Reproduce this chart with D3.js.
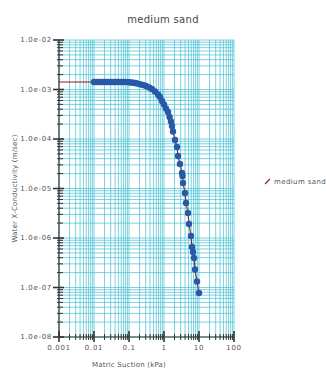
<!DOCTYPE html>
<html>
<head>
<meta charset="utf-8">
<script src="https://cdn.jsdelivr.net/npm/d3@7"></script>
<style>
body { margin: 0; background: #fff; }
text { font-family: "DejaVu Sans", sans-serif; fill: #555; }
</style>
</head>
<body>
<div id="chart"></div>
<script>
var title = "medium sand";
var xLabel = "Matric Suction (kPa)";
var yLabel = "Water X-Conductivity (m/sec)";
var xTicks = [0.001, 0.01, 0.1, 1, 10, 100];
var xTickLabels = ["0.001", "0.01", "0.1", "1", "10", "100"];
var yTicks = [1e-8, 1e-7, 1e-6, 1e-5, 1e-4, 1e-3, 1e-2];
var yTickLabels = ["1.0e-08", "1.0e-07", "1.0e-06", "1.0e-05", "1.0e-04", "1.0e-03", "1.0e-02"];

// line starts at 0.001 kPa, measured points from 0.01 kPa
var lineStart = {s: 0.001, k: 1.42e-3};
var suction = [0.01, 0.0115, 0.013, 0.015, 0.017, 0.02, 0.023, 0.026, 0.03, 0.034, 0.039, 0.045,
    0.051, 0.058, 0.067, 0.076, 0.087, 0.1, 0.115, 0.13, 0.15, 0.17, 0.206, 0.251, 0.306, 0.373,
    0.454, 0.553, 0.674, 0.769, 0.877, 1.0, 1.14, 1.30, 1.44, 1.58, 1.69, 1.81, 2.06, 2.35, 2.51,
    2.86, 3.27, 3.38, 3.49, 3.98, 4.25, 4.85, 5.18, 5.90, 6.31, 6.74, 7.20, 7.69, 8.77, 10.0];
var conductivity = [1.42e-3, 1.42e-3, 1.42e-3, 1.42e-3, 1.42e-3, 1.42e-3, 1.42e-3, 1.42e-3, 1.42e-3,
    1.42e-3, 1.42e-3, 1.42e-3, 1.42e-3, 1.42e-3, 1.42e-3, 1.42e-3, 1.41e-3, 1.40e-3, 1.39e-3, 1.37e-3,
    1.35e-3, 1.32e-3, 1.28e-3, 1.23e-3, 1.18e-3, 1.10e-3, 1.02e-3, 9.12e-4, 7.93e-4, 7.05e-4, 5.86e-4,
    4.98e-4, 4.13e-4, 3.51e-4, 2.78e-4, 2.26e-4, 1.83e-4, 1.42e-4, 9.55e-5, 6.89e-5, 4.54e-5, 3.13e-5,
    2.06e-5, 1.79e-5, 1.29e-5, 8.11e-6, 5.09e-6, 3.20e-6, 1.92e-6, 1.10e-6, 6.57e-7, 5.21e-7, 3.94e-7,
    2.31e-7, 1.32e-7, 7.74e-8];

var margin = {top: 40, left: 59};
var width = 175, height = 297;

var svg = d3.select("#chart").append("svg")
    .attr("width", 326)
    .attr("height", 370);

var g = svg.append("g")
    .attr("transform", "translate(" + margin.left + "," + margin.top + ")");

var x = d3.scaleLog().domain([0.001, 100]).range([0, width]);
var y = d3.scaleLog().domain([1e-8, 1e-2]).range([height, 0]);

// minor values 1..9 per decade
var xMinor = [], yMinor = [];
xTicks.forEach(function(d, i) {
    if (i == xTicks.length - 1) { xMinor.push(d); return; }
    for (var m = 1; m < 10; m++) xMinor.push(+(d * m).toPrecision(3));
});
yTicks.forEach(function(d, i) {
    if (i == yTicks.length - 1) { yMinor.push(d); return; }
    for (var m = 1; m < 10; m++) yMinor.push(+(d * m).toPrecision(3));
});

// grid
var grid = g.append("g")
    .attr("stroke", "#4fc3d5")
    .attr("stroke-opacity", 0.75)
    .attr("stroke-width", 1);

grid.selectAll(".vgrid").data(xMinor).enter().append("line")
    .attr("class", "vgrid")
    .attr("x1", function(d) { return x(d); })
    .attr("x2", function(d) { return x(d); })
    .attr("y1", 0).attr("y2", height);

grid.selectAll(".hgrid").data(yMinor).enter().append("line")
    .attr("class", "hgrid")
    .attr("y1", function(d) { return y(d); })
    .attr("y2", function(d) { return y(d); })
    .attr("x1", 0).attr("x2", width);

// axes
var axes = g.append("g").attr("stroke", "#333");

axes.selectAll(".ytick").data(yMinor).enter().append("line")
    .attr("class", "ytick")
    .attr("y1", function(d) { return y(d); })
    .attr("y2", function(d) { return y(d); })
    .attr("x1", function(d) { return yTicks.indexOf(d) >= 0 ? -6 : -2; })
    .attr("x2", function(d) { return yTicks.indexOf(d) >= 0 ? 5 : 4; })
    .attr("stroke-width", function(d) { return yTicks.indexOf(d) >= 0 ? 1.6 : 1; });

axes.selectAll(".xtick").data(xMinor).enter().append("line")
    .attr("class", "xtick")
    .attr("x1", function(d) { return x(d); })
    .attr("x2", function(d) { return x(d); })
    .attr("y1", function(d) { return height + (xTicks.indexOf(d) >= 0 ? -6 : -3); })
    .attr("y2", function(d) { return height + (xTicks.indexOf(d) >= 0 ? 5 : 3); })
    .attr("stroke-width", function(d) { return xTicks.indexOf(d) >= 0 ? 1.6 : 1; });

axes.append("line").attr("x1", 0).attr("x2", 0).attr("y1", 0).attr("y2", height).attr("stroke-width", 1.2);
axes.append("line").attr("x1", 0).attr("x2", width).attr("y1", height).attr("y2", height).attr("stroke-width", 1.2);

g.selectAll(".ylab").data(yTicks).enter().append("text")
    .attr("class", "ylab")
    .attr("x", -7)
    .attr("y", function(d) { return y(d); })
    .attr("dy", "0.33em")
    .attr("text-anchor", "end")
    .style("font-size", "7px")
    .style("letter-spacing", "0.7px")
    .text(function(d, i) { return yTickLabels[i]; });

g.selectAll(".xlab").data(xTicks).enter().append("text")
    .attr("class", "xlab")
    .attr("x", function(d) { return x(d); })
    .attr("y", height + 13)
    .attr("text-anchor", "middle")
    .style("font-size", "7px")
    .style("letter-spacing", "0.7px")
    .text(function(d, i) { return xTickLabels[i]; });

// data
var points = suction.map(function(s, i) { return {s: s, k: conductivity[i]}; });
var linePts = [lineStart].concat(points);

var line = d3.line()
    .x(function(d) { return x(d.s); })
    .y(function(d) { return y(d.k); });

g.append("path")
    .datum(linePts)
    .attr("d", line)
    .attr("fill", "none")
    .attr("stroke", "#8b1c1c")
    .attr("stroke-width", 1.1);

g.selectAll(".dot").data(points).enter().append("circle")
    .attr("class", "dot")
    .attr("cx", function(d) { return x(d.s); })
    .attr("cy", function(d) { return y(d.k); })
    .attr("r", 3.2)
    .attr("fill", "#2858a8");

// titles
svg.append("text")
    .attr("x", 163).attr("y", 23)
    .attr("text-anchor", "middle")
    .style("font-size", "10px")
    .style("letter-spacing", "0.3px")
    .style("fill", "#444")
    .text(title);

svg.append("text")
    .attr("x", 129).attr("y", 367)
    .attr("text-anchor", "middle")
    .style("font-size", "7px")
    .style("letter-spacing", "0.2px")
    .text(xLabel);

svg.append("text")
    .attr("transform", "translate(17," + (margin.top + height / 2) + ") rotate(-90)")
    .attr("text-anchor", "middle")
    .style("font-size", "7px")
    .style("letter-spacing", "0.2px")
    .text(yLabel);

// legend
var legend = svg.append("g").attr("transform", "translate(265,184)");
legend.append("line")
    .attr("x1", 0).attr("y1", 0).attr("x2", 5).attr("y2", -5)
    .attr("stroke", "#8b1c1c").attr("stroke-width", 1.1);
legend.append("text")
    .attr("x", 9).attr("y", 0)
    .style("font-size", "7px")
    .style("letter-spacing", "0.4px")
    .text(title);
</script>
</body>
</html>
